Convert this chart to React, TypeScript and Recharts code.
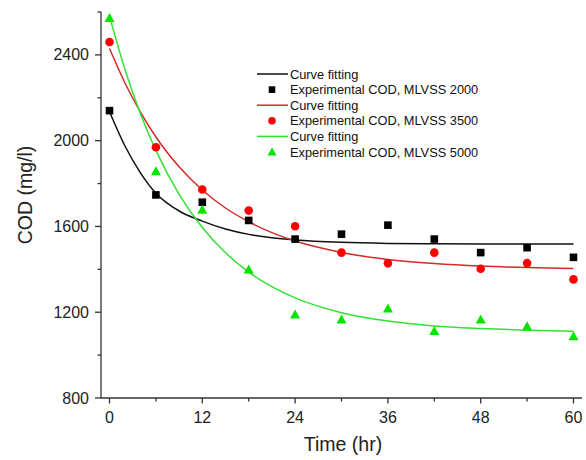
import { ComposedChart, Line, Scatter, XAxis, YAxis } from 'recharts';

// experimental points
const hours = [0, 6, 12, 18, 24, 30, 36, 42, 48, 54, 60];
const codMlvss2000 = [2140, 1747, 1713, 1628, 1541, 1564, 1606, 1541, 1478, 1501, 1456];
const codMlvss3500 = [2460, 1969, 1772, 1674, 1601, 1478, 1428, 1478, 1403, 1429, 1353];
const codMlvss5000 = [2572, 1857, 1678, 1399, 1189, 1166, 1217, 1113, 1166, 1135, 1088];

// fitted curves
const fitHours = [0, 2, 4, 6, 9, 12, 15, 18, 21, 24, 30, 36, 42, 48, 54, 60];
const fit2000 = [2135, 1975, 1850, 1755, 1672, 1625, 1588, 1563, 1547, 1537, 1526, 1521, 1519, 1518, 1518, 1518];
const fit3500 = [2430, 2269, 2133, 2017, 1878, 1770, 1686, 1622, 1571, 1532, 1479, 1446, 1427, 1415, 1408, 1404];
const fit5000 = [2580, 2332, 2126, 1955, 1750, 1595, 1477, 1387, 1319, 1267, 1198, 1159, 1136, 1124, 1116, 1111];

const xTicks = [0, 6, 12, 18, 24, 30, 36, 42, 48, 54, 60];
const yTicks = [800, 1000, 1200, 1400, 1600, 1800, 2000, 2200, 2400, 2600];

const legendItems = [
  { label: 'Curve fitting', kind: 'line', color: '#111' },
  { label: 'Experimental COD, MLVSS 2000', kind: 'square', color: '#000' },
  { label: 'Curve fitting', kind: 'line', color: '#d42a2a' },
  { label: 'Experimental COD, MLVSS 3500', kind: 'circle', color: '#ff0000' },
  { label: 'Curve fitting', kind: 'line', color: '#33e033' },
  { label: 'Experimental COD, MLVSS 5000', kind: 'triangle', color: '#00e600' },
];

const font = '"Liberation Sans", Arial, sans-serif';
const axisColor = '#333';

const toPoints = (xs: number[], ys: number[]) => xs.map((t, i) => ({ t, cod: ys[i] }));

const SquareDot = (p: any) => <rect x={p.cx - 3.8} y={p.cy - 3.8} width={7.6} height={7.6} fill="#000" />;
const CircleDot = (p: any) => <circle cx={p.cx} cy={p.cy} r={4.3} fill="#ff0000" />;
const TriangleDot = (p: any) => (
  <polygon points={`${p.cx},${p.cy - 5} ${p.cx - 5},${p.cy + 4} ${p.cx + 5},${p.cy + 4}`} fill="#00e600" />
);

function YTick({ x, y, payload }: any) {
  const major = payload.value % 400 === 0;
  return (
    <g>
      <line x1={x - (major ? 6 : 3.5)} x2={x} y1={y} y2={y} stroke={axisColor} strokeWidth={1.3} />
      {major && (
        <text x={x - 12} y={y} dy={5.5} textAnchor="end" fontSize={16} fill="#222" fontFamily={font}>
          {payload.value}
        </text>
      )}
    </g>
  );
}

function XTick({ x, y, payload }: any) {
  const major = payload.value % 12 === 0;
  return (
    <g>
      <line x1={x} x2={x} y1={y} y2={y + (major ? 5.5 : 3.5)} stroke={axisColor} strokeWidth={1.3} />
      {major && (
        <text x={x} y={y + 25} textAnchor="middle" fontSize={16} fill="#222" fontFamily={font}>
          {payload.value}
        </text>
      )}
    </g>
  );
}

function LegendBox() {
  return (
    <svg width={240} height={100} style={{ position: 'absolute', left: 252, top: 65 }}>
      {legendItems.map((it, i) => {
        const cy = 9 + i * 15.6;
        const sx = 20;
        return (
          <g key={i}>
            {it.kind === 'line' && <line x1={5} x2={36} y1={cy} y2={cy} stroke={it.color} strokeWidth={1.5} />}
            {it.kind === 'square' && <rect x={sx - 3.3} y={cy - 3.3} width={6.6} height={6.6} fill={it.color} />}
            {it.kind === 'circle' && <circle cx={sx} cy={cy} r={3.8} fill={it.color} />}
            {it.kind === 'triangle' && (
              <polygon points={`${sx},${cy - 4.5} ${sx - 4.5},${cy + 3.5} ${sx + 4.5},${cy + 3.5}`} fill={it.color} />
            )}
            <text x={38} y={cy + 4.5} fontSize={12.8} fill="#111" fontFamily={font}>
              {it.label}
            </text>
          </g>
        );
      })}
    </svg>
  );
}

export default function App() {
  return (
    <div style={{ position: 'absolute', left: 0, top: 0, width: 586, height: 460, background: '#fff' }}>
      <ComposedChart width={586} height={460} margin={{ top: 12, right: 4, bottom: 0, left: 0 }}>
        <XAxis
          type="number"
          dataKey="t"
          domain={[-1.1, 61.1]}
          ticks={xTicks}
          interval={0}
          tickSize={0}
          tickMargin={0}
          tickLine={false}
          tick={<XTick />}
          height={62}
          stroke={axisColor}
          strokeWidth={1.3}
          allowDuplicatedCategory={false}
          label={{
            content: () => (
              <text x={343} y={451} textAnchor="middle" fontSize={19.5} fill="#222" fontFamily={font}>
                Time (hr)
              </text>
            ),
          }}
        />
        <YAxis
          type="number"
          dataKey="cod"
          domain={[800, 2600]}
          ticks={yTicks}
          interval={0}
          tickSize={0}
          tickMargin={0}
          tickLine={false}
          tick={<YTick />}
          width={101}
          stroke={axisColor}
          strokeWidth={1.3}
          label={{
            content: () => (
              <text
                transform="translate(25,195) rotate(-90)"
                textAnchor="middle"
                dominantBaseline="central"
                fontSize={19.5}
                fill="#222"
                fontFamily={font}
              >
                COD (mg/l)
              </text>
            ),
          }}
        />
        <Line data={toPoints(fitHours, fit2000)} dataKey="cod" type="monotone" stroke="#111" strokeWidth={1.5} dot={false} isAnimationActive={false} />
        <Line data={toPoints(fitHours, fit3500)} dataKey="cod" type="monotone" stroke="#d42a2a" strokeWidth={1.5} dot={false} isAnimationActive={false} />
        <Line data={toPoints(fitHours, fit5000)} dataKey="cod" type="monotone" stroke="#33e033" strokeWidth={1.5} dot={false} isAnimationActive={false} />
        <Scatter data={toPoints(hours, codMlvss2000)} dataKey="cod" shape={SquareDot} isAnimationActive={false} />
        <Scatter data={toPoints(hours, codMlvss3500)} dataKey="cod" shape={CircleDot} isAnimationActive={false} />
        <Scatter data={toPoints(hours, codMlvss5000)} dataKey="cod" shape={TriangleDot} isAnimationActive={false} />
      </ComposedChart>
      <LegendBox />
    </div>
  );
}
